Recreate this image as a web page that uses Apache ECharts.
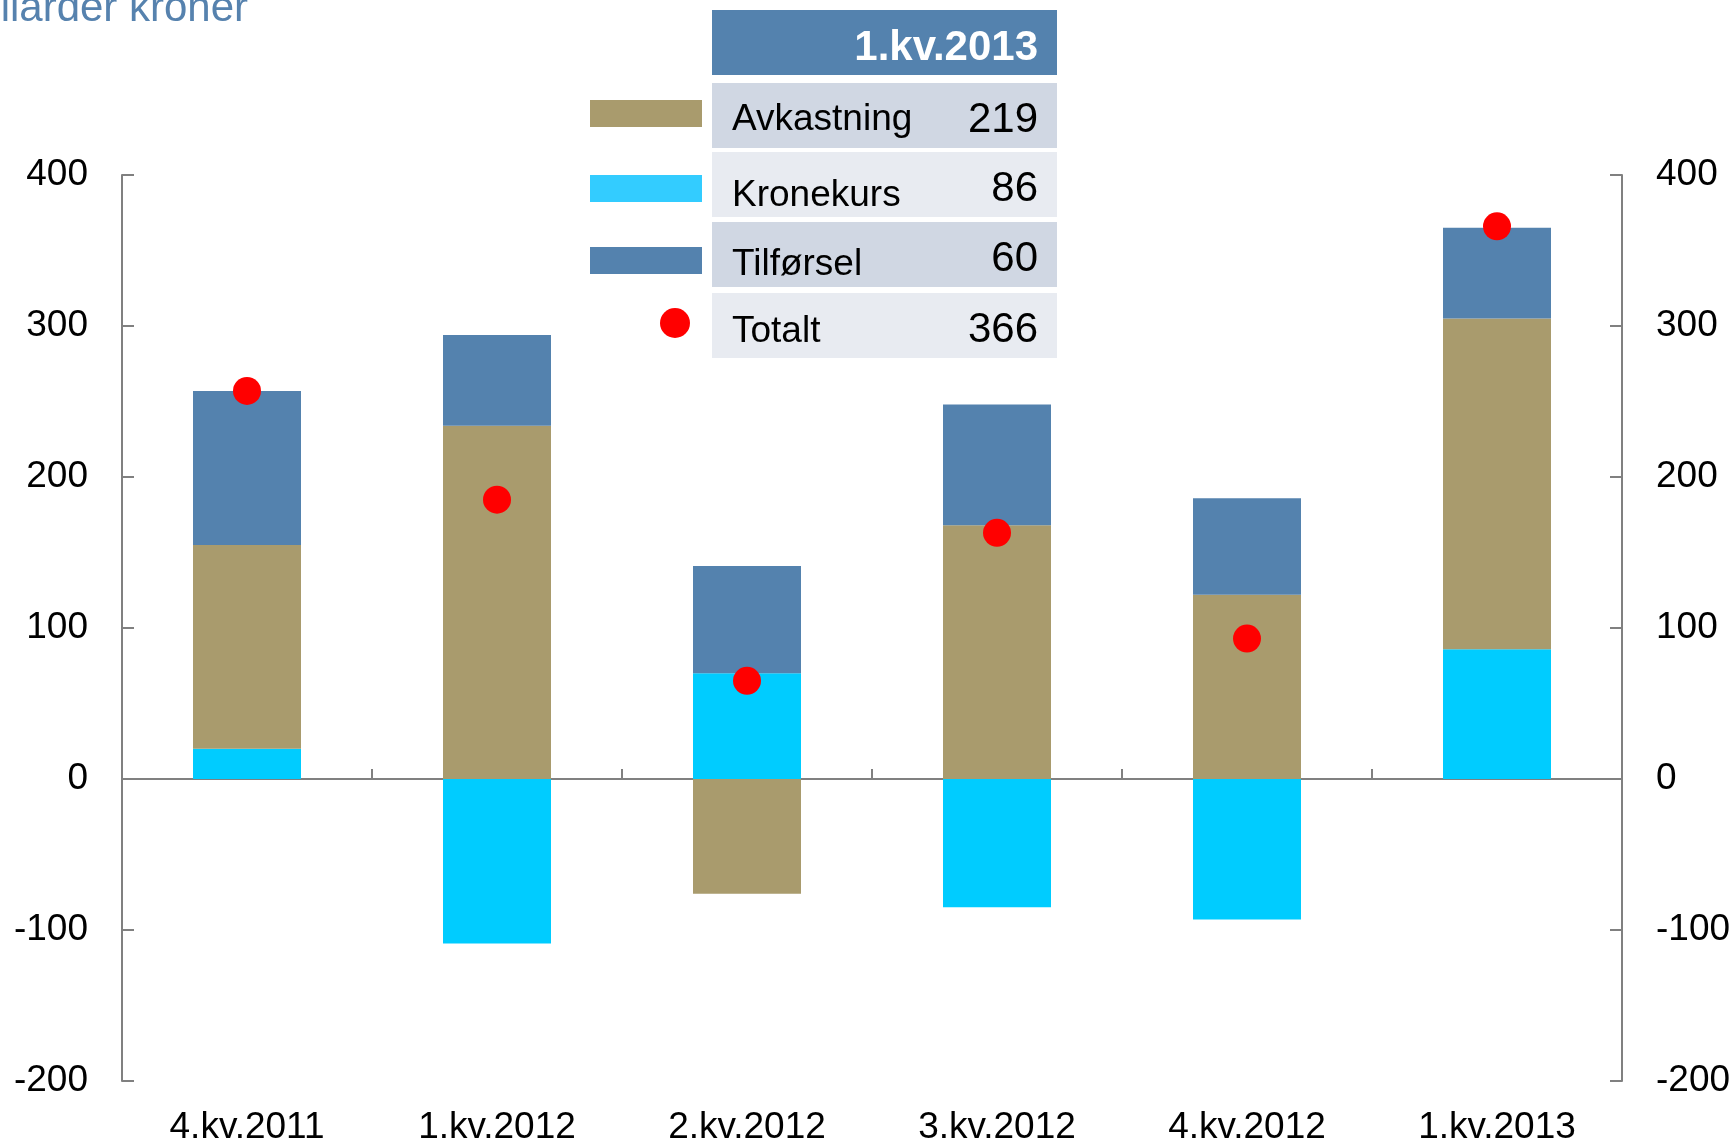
<!DOCTYPE html>
<html>
<head>
<meta charset="utf-8">
<title>Milliarder kroner</title>
<script src="https://cdn.jsdelivr.net/npm/echarts@6/dist/echarts.min.js"></script>
<style>
  html, body { margin: 0; padding: 0; background: #fff; }
  #chart { width: 1735px; height: 1143px; }
</style>
</head>
<body>
<div id="chart"></div>
<script>
// data
const categories = ['4.kv.2011', '1.kv.2012', '2.kv.2012', '3.kv.2012', '4.kv.2012', '1.kv.2013'];
const kronekurs = [20, -109, 70, -85, -93, 86];
const avkastning = [135, 234, -76, 168, 122, 219];
const tilforsel = [102, 60, 71, 80, 64, 60];
const totalt = [257, 185, 65, 163, 93, 366];
const yTicks = [-200, -100, 0, 100, 200, 300, 400];

const FONT = '"Liberation Sans", Arial, sans-serif';
const AXIS_GREY = '#808080';
const colors = {
  avkastning: '#A99B6D',
  kronekurs: '#00CCFF',
  kronekursKey: '#33CCFF',
  tilforsel: '#5482AE',
  totalt: '#FF0000'
};

const last = categories.length - 1;

// table at the top (legend + values of the last quarter)
const rows = [
  { name: 'Avkastning', value: avkastning[last], swatch: colors.avkastning, fill: '#D0D7E3' },
  { name: 'Kronekurs', value: kronekurs[last], swatch: colors.kronekursKey, fill: '#E8EBF1' },
  { name: 'Tilførsel', value: tilforsel[last], swatch: colors.tilforsel, fill: '#D0D7E3' },
  { name: 'Totalt', value: totalt[last], swatch: null, fill: '#E8EBF1' }
];
const rowTop = [83, 152, 222, 293];
const labelShift = [37, 44, 43, 39];
const swatchTop = [100, 175, 247, 323];

const graphics = [
  {
    type: 'text', left: -53, top: -12,
    style: { text: 'Milliarder kroner', font: '42px ' + FONT, fill: '#5682AE' }
  },
  {
    type: 'rect', shape: { x: 712, y: 10, width: 345, height: 65 },
    style: { fill: '#5482AE' }
  },
  {
    type: 'text', x: 1038, y: 48,
    style: { text: categories[last], font: 'bold 42px ' + FONT, fill: '#fff', align: 'right', verticalAlign: 'middle' }
  }
];

rows.forEach((r, i) => {
  const top = rowTop[i];
  graphics.push({
    type: 'rect', shape: { x: 712, y: top, width: 345, height: 65 },
    style: { fill: r.fill }
  });
  graphics.push({
    type: 'text', x: 732, y: top + labelShift[i],
    style: { text: r.name, font: '37px ' + FONT, fill: '#000', verticalAlign: 'middle' }
  });
  graphics.push({
    type: 'text', x: 1038, y: top + 37,
    style: { text: String(r.value), font: '42px ' + FONT, fill: '#000', align: 'right', verticalAlign: 'middle' }
  });
  if (r.swatch) {
    graphics.push({
      type: 'rect', shape: { x: 590, y: swatchTop[i], width: 112, height: 27 },
      style: { fill: r.swatch }
    });
  } else {
    graphics.push({
      type: 'circle', shape: { cx: 675, cy: swatchTop[i], r: 15 },
      style: { fill: colors.totalt }
    });
  }
});

const yAxisBase = {
  type: 'value',
  min: yTicks[0],
  max: yTicks[yTicks.length - 1],
  interval: 100,
  splitLine: { show: false },
  axisLine: { show: true, lineStyle: { color: AXIS_GREY, width: 2 } },
  axisTick: { show: true, inside: true, length: 12, lineStyle: { color: AXIS_GREY, width: 2 } },
  axisLabel: { color: '#000', fontSize: 37, fontFamily: FONT, margin: 34 }
};

const chart = echarts.init(document.getElementById('chart'));

chart.setOption({
  animation: false,
  backgroundColor: '#fff',
  grid: { left: 122, right: 113, top: 175, bottom: 62, containLabel: false, outerBoundsMode: 'none' },
  xAxis: [
    {
      type: 'category',
      data: categories,
      axisLine: { show: false, onZero: false },
      axisTick: { show: false },
      axisLabel: { color: '#000', fontSize: 37, fontFamily: FONT, margin: 28 }
    },
    {
      // zero line with the category ticks
      type: 'category',
      position: 'bottom',
      data: categories,
      axisLine: { show: true, onZero: true, lineStyle: { color: AXIS_GREY, width: 2 } },
      axisTick: { show: true, inside: true, length: 10, lineStyle: { color: AXIS_GREY, width: 2 } },
      axisLabel: { show: false }
    }
  ],
  yAxis: [
    Object.assign({}, yAxisBase, { position: 'left' }),
    Object.assign({}, yAxisBase, { position: 'right' })
  ],
  series: [
    {
      name: 'Kronekurs', type: 'bar', stack: 'sum', barWidth: 108,
      itemStyle: { color: colors.kronekurs }, data: kronekurs
    },
    {
      name: 'Avkastning', type: 'bar', stack: 'sum', barWidth: 108,
      itemStyle: { color: colors.avkastning }, data: avkastning
    },
    {
      name: 'Tilførsel', type: 'bar', stack: 'sum', barWidth: 108,
      itemStyle: { color: colors.tilforsel }, data: tilforsel
    },
    {
      name: 'Totalt', type: 'scatter', symbol: 'circle', symbolSize: 28, z: 5,
      itemStyle: { color: colors.totalt, opacity: 1 }, data: totalt
    }
  ],
  graphic: graphics
});

window.addEventListener('resize', () => chart.resize());
</script>
</body>
</html>
